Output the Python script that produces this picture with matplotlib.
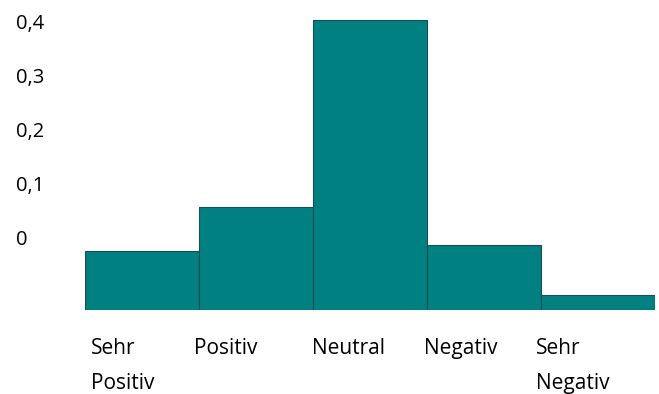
import matplotlib.pyplot as plt
from matplotlib.transforms import ScaledTranslation

# Bewertungskategorien und Balkenoberkanten auf der Achsenskala
categories = ['Sehr\nPositiv', 'Positiv', 'Neutral', 'Negativ', 'Sehr\nNegativ']
tops = [-0.026, 0.056, 0.402, -0.015, -0.107]
baseline = -0.135
y_ticks = [0, 0.1, 0.2, 0.3, 0.4]
y_labels = ['0', '0,1', '0,2', '0,3', '0,4']
label_shift = [6, -5, -1, -3, -5]  # px, horizontal offset of category labels

plt.rcParams['font.family'] = ['Open Sans', 'DejaVu Sans']

fig = plt.figure(figsize=(6.59, 3.94), dpi=100)
ax = fig.add_axes([85 / 659, 1 - 310 / 394, 570 / 659, 300 / 394])

x = range(len(categories))
heights = [t - baseline for t in tops]
ax.bar(x, heights, bottom=baseline, width=1.0, color='#008080',
       edgecolor='#1d4e4e', linewidth=0.8)

ax.set_xlim(-0.5, len(categories) - 0.5)
ax.set_ylim(baseline, (237 - 10) / 540)

ax.set_yticks(y_ticks)
ax.set_yticklabels(y_labels, fontsize=14.5)
ax.tick_params(axis='y', length=0, pad=50)
for lbl in ax.get_yticklabels():
    lbl.set_horizontalalignment('left')

ax.set_xticks([i - 0.5 for i in x])
ax.set_xticklabels(categories, fontsize=15, ha='left', linespacing=1.9)
ax.tick_params(axis='x', length=0, pad=20)
for lbl, dx in zip(ax.get_xticklabels(), label_shift):
    lbl.set_transform(lbl.get_transform() + ScaledTranslation(dx / 100, 0, fig.dpi_scale_trans))

for s in ax.spines.values():
    s.set_visible(False)

fig.savefig('out.png', dpi=100)
